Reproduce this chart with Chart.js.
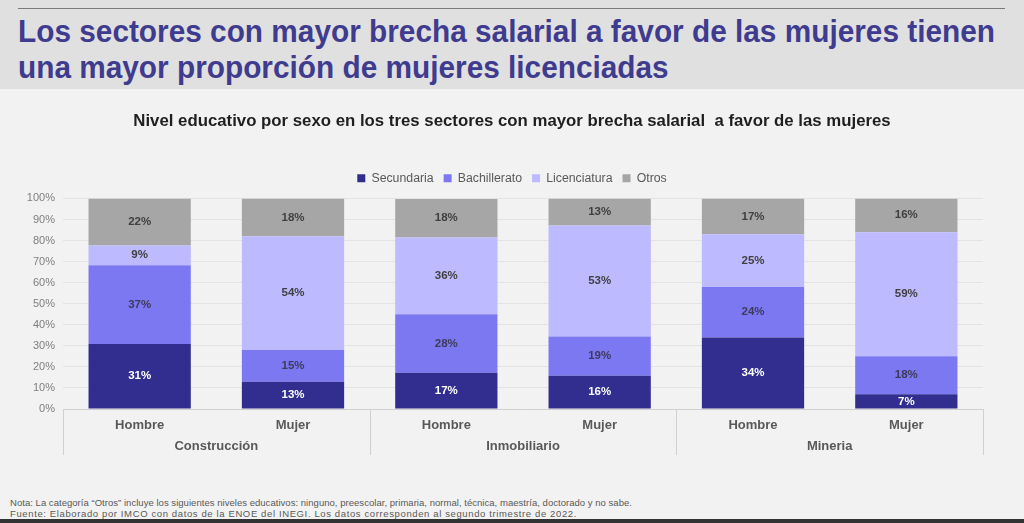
<!DOCTYPE html>
<html><head><meta charset="utf-8">
<script src="https://cdn.jsdelivr.net/npm/chart.js@4.4.1/dist/chart.umd.min.js"></script>
<style>
html,body{margin:0;padding:0;width:1024px;height:523px;overflow:hidden;background:#f2f2f2;font-family:"Liberation Sans",Arial,sans-serif;}
#band{position:absolute;left:0;top:0;width:1024px;height:89px;background:#e0e0e0;}
#rule{position:absolute;left:18px;top:8px;width:987px;height:1px;background:#7a7a7a;}
#title{position:absolute;left:18px;top:14px;font-family:"Liberation Sans",Arial,sans-serif;font-weight:bold;font-size:31px;line-height:36px;color:#3f3b8e;white-space:nowrap;transform-origin:0 0;}
#title span{display:inline-block;}
#chartbox{position:absolute;left:0;top:88px;width:1024px;height:400px;}
#notes{position:absolute;left:10px;top:497px;font-size:9.5px;line-height:11px;color:#595959;white-space:nowrap;}
#notes span{display:inline-block;}
#foot{position:absolute;left:0;top:519px;width:1024px;height:4px;background:#333;}
</style></head>
<body>
<div id="band"></div>
<div id="rule"></div>
<div id="title"><span id="t1">Los sectores con mayor brecha salarial a favor de las mujeres tienen</span><br><span id="t2">una mayor proporción de mujeres licenciadas</span></div>
<div id="chartbox"><canvas id="c"></canvas></div>
<div id="notes"><span id="n1">Nota: La categoría “Otros” incluye los siguientes niveles educativos: ninguno, preescolar, primaria, normal, técnica, maestría, doctorado y no sabe.</span><br><span id="n2">Fuente: Elaborado por IMCO con datos de la ENOE del INEGI. Los datos corresponden al segundo trimestre de 2022.</span></div>
<div id="foot"></div>
<script>
const categories = ['Hombre','Mujer','Hombre','Mujer','Hombre','Mujer'];
const sectors = ['Construcción','Inmobiliario','Mineria'];
const seriesNames = ['Secundaria','Bachillerato','Licenciatura','Otros'];
const secundaria   = [30.9, 13, 17.2, 15.8, 34, 7];
const bachillerato = [37.4, 15, 27.8, 18.6, 24, 18];
const licenciatura = [9.4, 54, 36.4, 52.8, 25, 59];
const otros        = [22.3, 18, 18.4, 12.8, 17, 16];
const seriesColors = ['#312e8f','#7b78f2','#bdbaff','#a6a6a6'];
const labelColors  = ['#ffffff','#3d3b5c','#404040','#404040'];
const chartTitle = 'Nivel educativo por sexo en los tres sectores con mayor brecha salarial  a favor de las mujeres';

const FONT = '"Liberation Sans", Arial, sans-serif';

// fit header title width (condensed look) and note lines
(function(){
  const t = document.getElementById('title');
  const w = document.getElementById('t1').getBoundingClientRect().width;
  t.style.transform = 'scaleX(' + (977 / w) + ')';
  [['n1', 622], ['n2', 567]].forEach(([id, target]) => {
    const el = document.getElementById(id);
    const cw = el.getBoundingClientRect().width;
    const n = el.textContent.length;
    el.style.letterSpacing = ((target - cw) / n) + 'px';
  });
})();

const overlay = {
  id: 'overlay',
  beforeInit(chart){
    const lg = chart.legend;
    if (lg) {
      const orig = lg.fit;
      lg.fit = function(){ orig.call(this); this.height += 4; };
    }
  },
  afterDatasetsDraw(chart){
    const ctx = chart.ctx;
    ctx.save();
    ctx.font = 'bold 11.5px ' + FONT;
    ctx.textAlign = 'center';
    ctx.textBaseline = 'middle';
    chart.data.datasets.forEach((ds, i) => {
      const meta = chart.getDatasetMeta(i);
      meta.data.forEach((el, j) => {
        ctx.fillStyle = labelColors[i];
        ctx.fillText(Math.round(ds.data[j]) + '%', el.x, (el.y + el.base) / 2);
      });
    });
    ctx.restore();
  },
  afterDraw(chart){
    const x = chart.scales.x, area = chart.chartArea, ctx = chart.ctx;
    ctx.save();
    ctx.strokeStyle = '#d0d0d0';
    ctx.lineWidth = 1;
    const bounds = [area.left];
    for (let g = 1; g < sectors.length; g++) {
      bounds.push((x.getPixelForValue(2*g-1) + x.getPixelForValue(2*g)) / 2);
    }
    bounds.push(area.right);
    bounds.forEach(b => {
      const bx = Math.round(b) + 0.5;
      ctx.beginPath(); ctx.moveTo(bx, area.bottom); ctx.lineTo(bx, area.bottom + 46); ctx.stroke();
    });
    ctx.font = 'bold 13px ' + FONT;
    ctx.fillStyle = '#595959';
    ctx.textAlign = 'center';
    ctx.textBaseline = 'middle';
    sectors.forEach((s, g) => {
      const cx = (x.getPixelForValue(2*g) + x.getPixelForValue(2*g+1)) / 2;
      ctx.fillText(s, cx, area.bottom + 37);
    });
    ctx.restore();
  }
};

const seriesData = [secundaria, bachillerato, licenciatura, otros];

new Chart(document.getElementById('c'), {
  type: 'bar',
  data: {
    labels: categories,
    datasets: seriesNames.map((n, i) => ({
      label: n,
      data: seriesData[i],
      backgroundColor: seriesColors[i],
      borderWidth: 0,
      categoryPercentage: 0.667,
      barPercentage: 1
    }))
  },
  options: {
    responsive: true,
    maintainAspectRatio: false,
    animation: false,
    layout: { padding: { left: 0, right: 0, top: 0, bottom: 33 } },
    plugins: {
      title: {
        display: true,
        text: chartTitle,
        color: '#1f1f1f',
        font: { family: FONT, size: 16.8, weight: 'bold' },
        padding: { top: 23, bottom: 31 }
      },
      legend: {
        position: 'top',
        labels: {
          boxWidth: 8, boxHeight: 8, padding: 10,
          color: '#595959',
          font: { family: FONT, size: 12.3 }
        }
      },
      tooltip: { enabled: false }
    },
    scales: {
      x: {
        stacked: true,
        grid: { display: false, drawTicks: false },
        border: { display: true, color: '#d0d0d0' },
        ticks: { color: '#595959', padding: 9, font: { family: FONT, size: 13, weight: 'bold' } },
        afterFit(s){ s.height = 46; }
      },
      y: {
        stacked: true,
        min: 0, max: 100,
        grid: { color: '#e3e3e3', drawTicks: false },
        border: { display: false },
        ticks: { stepSize: 10, color: '#7f7f7f', padding: 8, font: { family: FONT, size: 11 },
          callback: v => v + '%' },
        afterFit(s){ s.width = 63; }
      },
      yRight: {
        position: 'right',
        min: 0, max: 100,
        grid: { display: false, drawTicks: false },
        border: { display: false },
        ticks: { display: false },
        afterFit(s){ s.width = 41; }
      }
    }
  },
  plugins: [overlay]
});
</script>
</body></html>
